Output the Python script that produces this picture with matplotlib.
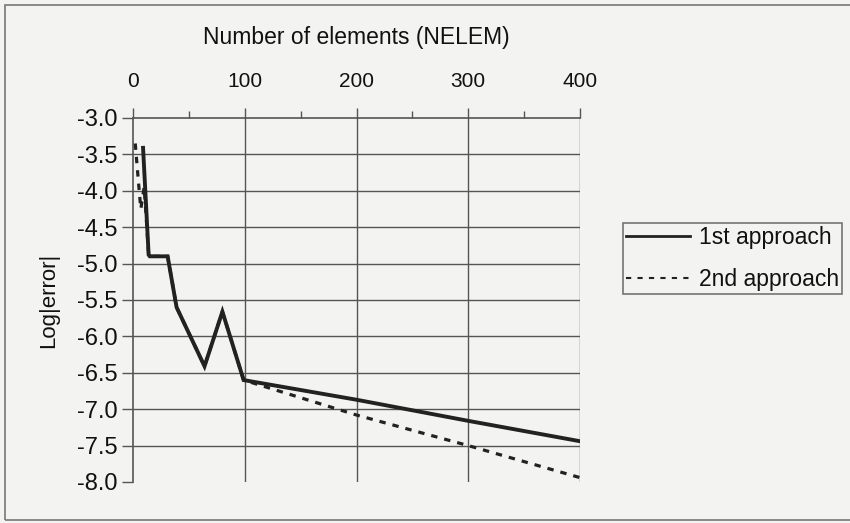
import numpy as np
import matplotlib
matplotlib.use("Agg")
import matplotlib.pyplot as plt
from matplotlib.lines import Line2D
from matplotlib.patches import Rectangle

plt.rcParams['font.family'] = ['Liberation Sans', 'DejaVu Sans']

# 1st approach (solid)
nelem1 = [9, 14, 15, 31, 39, 64, 80, 99, 200, 300, 400]
err1 = [-3.41, -4.88, -4.90, -4.90, -5.60, -6.41, -5.66, -6.60, -6.87, -7.16, -7.44]

# 2nd approach (dashed)
nelem2 = [2, 5, 7, 10, 14, 15, 31, 39, 64, 80, 99, 200, 300, 400]
err2 = [-3.35, -3.90, -4.25, -3.95, -4.88, -4.90, -4.90, -5.60, -6.41, -5.66, -6.60, -7.08, -7.50, -7.94]

xticks = [0, 100, 200, 300, 400]
yticks = [-3.0, -3.5, -4.0, -4.5, -5.0, -5.5, -6.0, -6.5, -7.0, -7.5, -8.0]

bg = '#f3f3f1'
ink = '#222222'
gridc = '#555555'

fig = plt.figure(figsize=(8.5, 5.23), dpi=100, facecolor=bg)
ax = fig.add_axes([133/850, 1-482/523, (580-133)/850, (482-118)/523])
ax.set_facecolor(bg)

ax.plot(nelem2, err2, color=ink, lw=2.3, linestyle=(0, (2.0, 2.2)), zorder=3)
ax.plot(nelem1, err1, color=ink, lw=2.8, zorder=4, solid_joinstyle='miter')

ax.set_xlim(0, 400)
ax.set_ylim(-8, -3)

ax.xaxis.tick_top()
ax.xaxis.set_label_position('top')
ax.set_xticks(xticks)
ax.set_xticks([50, 150, 250, 350], minor=True)
ax.set_yticks(yticks)
ax.set_yticklabels(['%.1f' % v for v in yticks])

ax.tick_params(axis='x', which='major', direction='out', length=7, width=1,
               color=gridc, labelsize=15, pad=12.5, labelcolor='#111')
ax.tick_params(axis='x', which='minor', direction='out', length=5, width=1, color=gridc)
ax.tick_params(axis='y', direction='out', length=8, width=1, color=gridc,
               labelsize=17, pad=3, labelcolor='#111')

ax.set_xlabel('Number of elements (NELEM)', fontsize=16.5, labelpad=20, color='#111')
ax.set_ylabel('Log|error|', fontsize=16, labelpad=13, color='#111')

# grid lines (no line along the bottom at -8.0)
for v in yticks[1:-1]:
    ax.axhline(v, color=gridc, lw=1, zorder=1)
for v in xticks[1:]:
    ax.axvline(v, color=gridc, lw=1, zorder=1)

for s in ['bottom', 'right']:
    ax.spines[s].set_visible(False)
for s in ['top', 'left']:
    ax.spines[s].set_color(gridc)
    ax.spines[s].set_linewidth(1.2)

handles = [Line2D([], [], color=ink, lw=2),
           Line2D([], [], color=ink, lw=1.5, linestyle=(0, (2.5, 3)))]
leg = fig.legend(handles, ['1st approach', '2nd approach'],
                 loc='upper left', bbox_to_anchor=(623/850, 1-223/523),
                 fontsize=16.5, frameon=True, fancybox=False,
                 handlelength=2.8, handletextpad=0.4, labelspacing=0.85,
                 borderpad=0.12, borderaxespad=0)
leg.get_frame().set_edgecolor(gridc)
leg.get_frame().set_linewidth(1.2)
leg.get_frame().set_facecolor(bg)
for t in leg.get_texts():
    t.set_color('#111')

# page frame around the scanned figure
fig.patches.append(Rectangle((5/850, 3/523), 1.2, 1-8/523, transform=fig.transFigure,
                             fill=False, edgecolor='#777777', lw=1.2))

fig.savefig('out.png', dpi=100, facecolor=bg)
